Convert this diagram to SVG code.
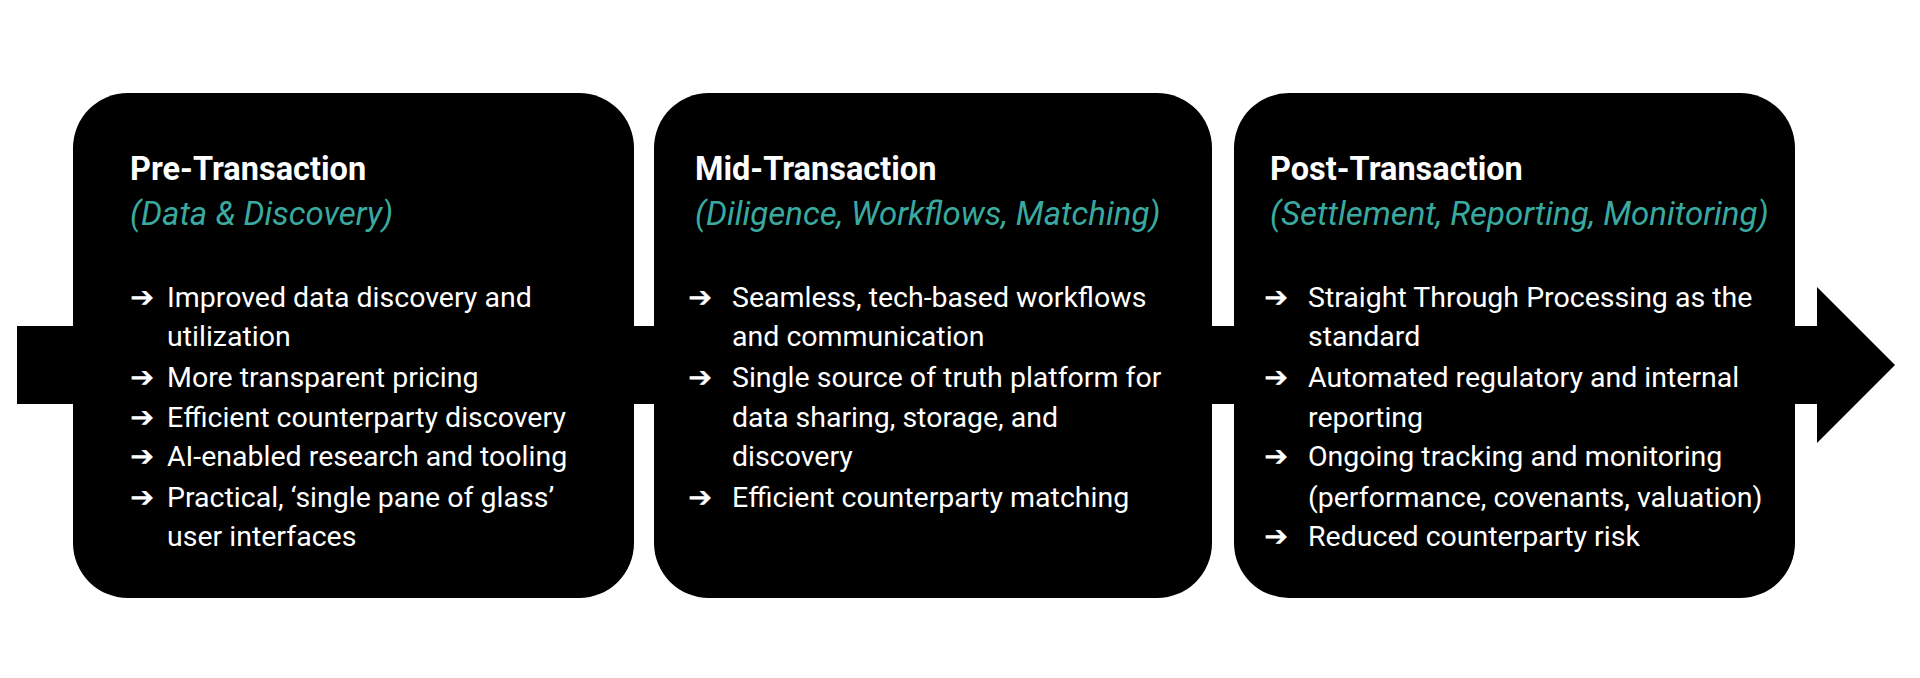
<svg xmlns="http://www.w3.org/2000/svg" width="1920" height="678" viewBox="0 0 1920 678">
<style>
.box{fill:#000}
.t{font-family:Roboto,"Liberation Sans",sans-serif;font-weight:bold;font-size:32.5px;fill:#fff}
.s{font-family:Roboto,"Liberation Sans",sans-serif;font-style:italic;font-size:33px;fill:#3aa99f}
.b{font-family:Roboto,"Liberation Sans",sans-serif;font-size:28.5px;fill:#fff}
</style>
<rect width="1920" height="678" fill="#fff"/>
<g id="connectors">
<path d="M17 326H1817V287L1895 365L1817 443V404H17Z" fill="#000"/>
</g>
<g id="pre">
<rect class="box" x="73" y="93" width="561" height="505" rx="55"/>
<text class="t" x="130" y="180">Pre-Transaction</text>
<text class="s" x="130" y="225">(Data &amp; Discovery)</text>
<g class="b">
<text x="130" y="307">➔</text><text x="167" y="307">Improved data discovery and</text>
<text x="167" y="346">utilization</text>
<text x="130" y="387">➔</text><text x="167" y="387">More transparent pricing</text>
<text x="130" y="427">➔</text><text x="167" y="427">Efficient counterparty discovery</text>
<text x="130" y="466">➔</text><text x="167" y="466">AI-enabled research and tooling</text>
<text x="130" y="507">➔</text><text x="167" y="507">Practical, ‘single pane of glass’</text>
<text x="167" y="546">user interfaces</text>
</g>
</g>
<g id="mid">
<rect class="box" x="654" y="93" width="558" height="505" rx="55"/>
<text class="t" x="695" y="180">Mid-Transaction</text>
<text class="s" x="695" y="225">(Diligence, Workflows, Matching)</text>
<g class="b">
<text x="688" y="307">➔</text><text x="732" y="307">Seamless, tech-based workflows</text>
<text x="732" y="346">and communication</text>
<text x="688" y="387">➔</text><text x="732" y="387">Single source of truth platform for</text>
<text x="732" y="427">data sharing, storage, and</text>
<text x="732" y="466">discovery</text>
<text x="688" y="507">➔</text><text x="732" y="507">Efficient counterparty matching</text>
</g>
</g>
<g id="post">
<rect class="box" x="1234" y="93" width="561" height="505" rx="55"/>
<text class="t" x="1270" y="180">Post-Transaction</text>
<text class="s" x="1270" y="225">(Settlement, Reporting, Monitoring)</text>
<g class="b">
<text x="1264" y="307">➔</text><text x="1308" y="307">Straight Through Processing as the</text>
<text x="1308" y="346">standard</text>
<text x="1264" y="387">➔</text><text x="1308" y="387">Automated regulatory and internal</text>
<text x="1308" y="427">reporting</text>
<text x="1264" y="466">➔</text><text x="1308" y="466">Ongoing tracking and monitoring</text>
<text x="1308" y="507">(performance, covenants, valuation)</text>
<text x="1264" y="546">➔</text><text x="1308" y="546">Reduced counterparty risk</text>
</g>
</g>
</svg>
